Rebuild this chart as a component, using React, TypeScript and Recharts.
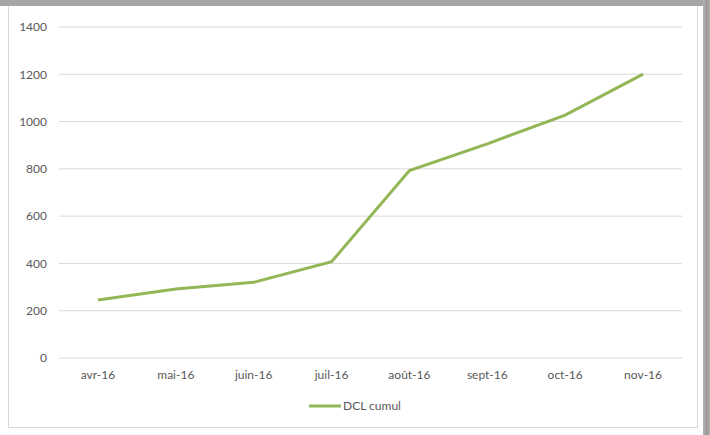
import React from "react";
import { LineChart, Line, XAxis, YAxis, CartesianGrid, Legend } from "recharts";

const months = ["avr-16", "mai-16", "juin-16", "juil-16", "août-16", "sept-16", "oct-16", "nov-16"];
const dclCumul = [245, 292, 320, 407, 793, 906, 1027, 1201];
const yTicks = [0, 200, 400, 600, 800, 1000, 1200, 1400];
const seriesName = "DCL cumul";

const data = months.map((m, i) => ({ month: m, dcl: dclCumul[i] }));

const FONT = "Lato, 'Liberation Sans', sans-serif";
const GREEN = "#93b656";
const TEXT = "#595959";

const LegendContent = () => (
  <div style={{ display: "flex", justifyContent: "center", alignItems: "center", fontFamily: FONT, fontSize: 12, color: TEXT }}>
    <svg width={32} height={10} style={{ marginRight: 2 }}>
      <line x1={0} y1={5} x2={32} y2={5} stroke={GREEN} strokeWidth={3} />
    </svg>
    <span>{seriesName}</span>
  </div>
);

export default function App() {
  return (
    <div style={{ position: "absolute", left: 0, top: 0, width: 710, height: 435, background: "#ffffff", overflow: "hidden" }}>
      <div style={{ position: "absolute", left: 8, top: 0, width: 688, height: 426, border: "1px solid #d9d9d9", boxSizing: "content-box" }} />
      <div style={{ position: "absolute", left: 0, top: 0, width: 710, height: 6, background: "#a6a6a6" }} />
      <div style={{ position: "absolute", left: 703, top: 0, width: 7, height: 435, background: "linear-gradient(to right, #b4b4b4, #9a9a9a, #b0b0b0)" }} />
      <div style={{ position: "absolute", left: 0, top: 0 }}>
        <LineChart width={710} height={435} data={data} margin={{ top: 27, right: 28, bottom: 20, left: 0 }}>
          <CartesianGrid horizontal vertical={false} stroke="#d9d9d9" strokeWidth={1} />
          <XAxis
            dataKey="month"
            scale="band"
            axisLine={false}
            tickLine={false}
            tickMargin={6}
            interval={0}
            tick={{ fill: TEXT, fontSize: 12, fontFamily: FONT }}
            height={37}
          />
          <YAxis
            width={59}
            domain={[0, 1400]}
            ticks={yTicks}
            axisLine={false}
            tickLine={false}
            tickMargin={6}
            tick={{ fill: TEXT, fontSize: 12, fontFamily: FONT }}
          />
          <Legend content={<LegendContent />} verticalAlign="bottom" wrapperStyle={{ position: "absolute", left: 0, width: 710, top: 398, height: 20 }} />
          <Line
            type="linear"
            dataKey="dcl"
            name={seriesName}
            stroke={GREEN}
            strokeWidth={3}
            dot={false}
            activeDot={false}
            isAnimationActive={false}
          />
        </LineChart>
      </div>
    </div>
  );
}
